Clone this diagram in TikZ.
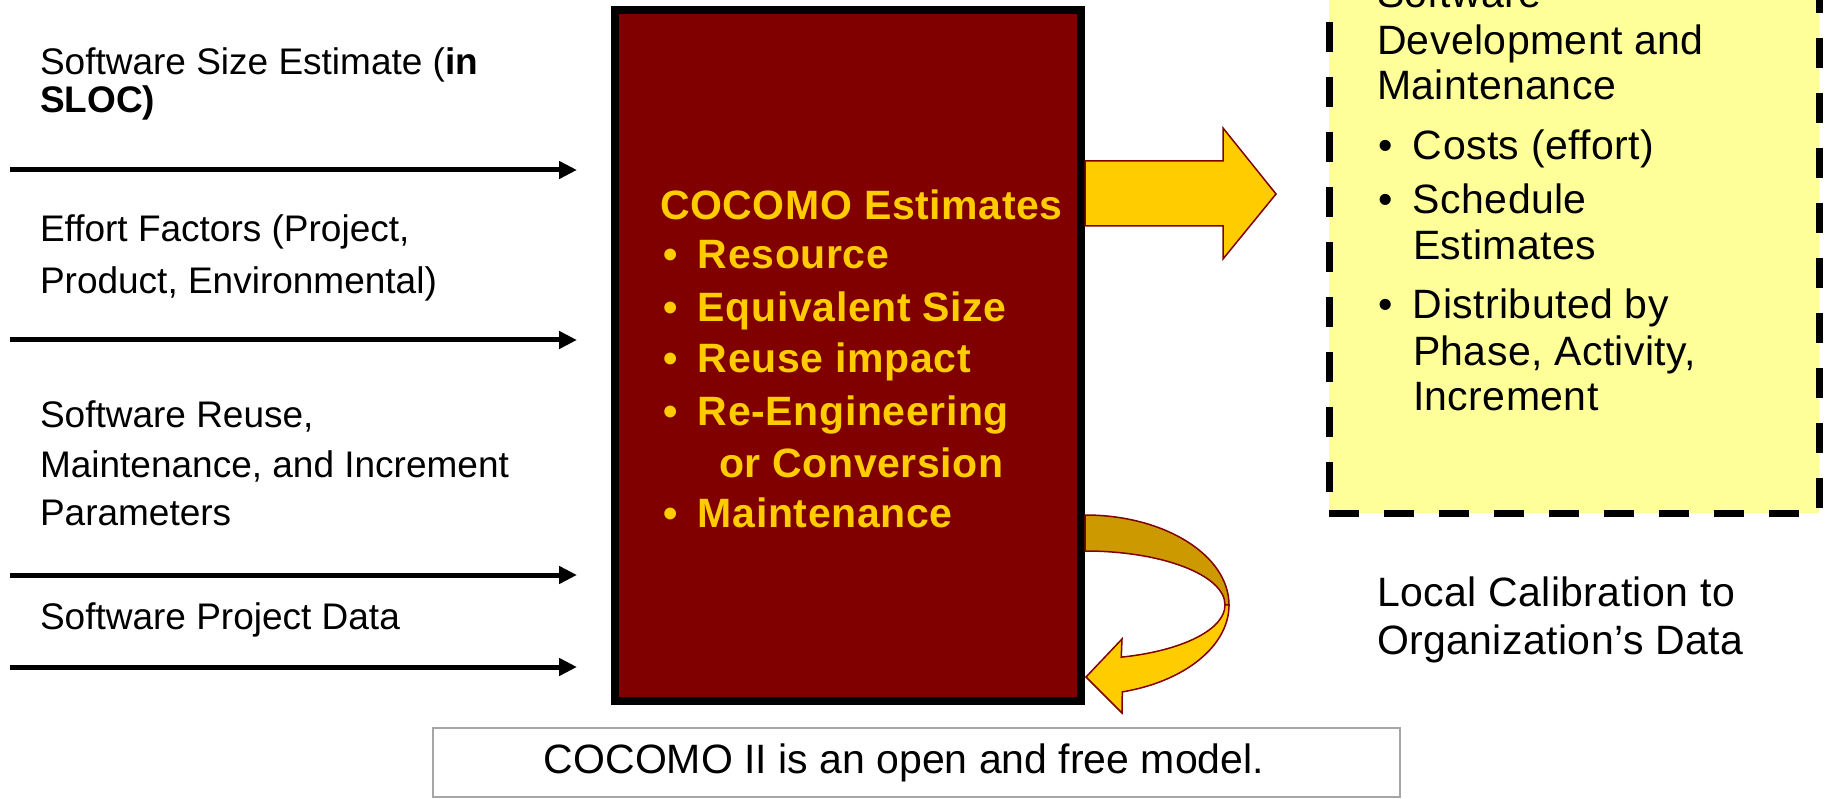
\documentclass[tikz,border=0pt]{standalone}
\usepackage{fontspec}
\setmainfont{Liberation Sans}
\newfontfamily\corefont[LetterSpace=1.5]{Liberation Sans}
\newfontfamily\outfont[LetterSpace=1]{Liberation Sans}
\newfontfamily\calfont[LetterSpace=1]{Liberation Sans}
\usetikzlibrary{arrows.meta}
\definecolor{maroon}{HTML}{800000}
\definecolor{gold}{HTML}{FFCC00}
\definecolor{darkgold}{HTML}{CC9900}
\definecolor{paleyellow}{HTML}{FFFF99}
\definecolor{notegray}{HTML}{A6A6A6}
\newcommand\blt[1]{\makebox[35pt][l]{•}#1}
\begin{document}
\begin{tikzpicture}[x=1pt,y=-1pt,
  every node/.style={inner sep=0pt,outer sep=0pt,anchor=base west},
  lefttxt/.style={font=\fontsize{37}{44}\selectfont},
  coretxt/.style={font=\corefont\bfseries\fontsize{41}{48}\selectfont,text=gold},
  outtxt/.style={font=\outfont\fontsize{41}{48}\selectfont},
  caltxt/.style={font=\calfont\fontsize{41}{48}\selectfont},
  notetxt/.style={anchor=base,font=\fontsize{41}{48}\selectfont},
  inarrow/.style={line width=5pt,-{Triangle[length=18pt,width=17pt]}},
  corebox/.style={anchor=center,draw=black,line width=8pt,fill=maroon,
    minimum width=466pt,minimum height=691pt},
  outbox/.style={anchor=center,draw=black,line width=7pt,fill=paleyellow,
    dash pattern=on 30pt off 25pt,minimum width=490pt,minimum height=553pt},
  notebox/.style={anchor=center,draw=notegray,line width=1.5pt,
    minimum width=967pt,minimum height=69pt},
  blockarrow/.style={fill=gold,draw=maroon,line width=1.5pt,line join=miter},
  backband/.style={fill=darkgold,draw=maroon,line width=1.5pt},
  frontband/.style={fill=gold,draw=maroon,line width=1.5pt,line join=miter}]

\useasboundingbox (0,0) rectangle (1829,799);

% input labels
\node[lefttxt] (in1a) at (40,75) {Software Size Estimate (\textbf{in}};
\node[lefttxt] (in1b) at (40,113) {\textbf{SLOC)}};
\node[lefttxt] (in2a) at (40,242) {Effort Factors (Project,};
\node[lefttxt] (in2b) at (40,294) {Product, Environmental)};
\node[lefttxt] (in3a) at (40,428) {Software Reuse,};
\node[lefttxt] (in3b) at (40,477) {Maintenance, and Increment};
\node[lefttxt] (in3c) at (40,525) {Parameters};
\node[lefttxt] (in4a) at (40,629) {Software Project Data};

% input arrows
\coordinate (a1s) at (10,170);  \coordinate (a1e) at (577,170);
\coordinate (a2s) at (10,340);  \coordinate (a2e) at (577,340);
\coordinate (a3s) at (10,575);  \coordinate (a3e) at (577,575);
\coordinate (a4s) at (10,667);  \coordinate (a4e) at (577,667);
\draw[inarrow] (a1s) -- (a1e);
\draw[inarrow] (a2s) -- (a2e);
\draw[inarrow] (a3s) -- (a3e);
\draw[inarrow] (a4s) -- (a4e);

% model box
\node[corebox] (core) at (848,355.5) {};
\node[coretxt] (c0) at (660,220) {COCOMO Estimates};
\node[coretxt] (c1) at (663,269) {\blt{Resource}};
\node[coretxt] (c2) at (663,322) {\blt{Equivalent Size}};
\node[coretxt] (c3) at (663,373) {\blt{Reuse impact}};
\node[coretxt] (c4) at (663,425) {\blt{Re-Engineering}};
\node[coretxt] (c5) at (719,477) {or Conversion};
\node[coretxt] (c6) at (663,527) {\blt{Maintenance}};

% output box
\node[outbox] (out) at (1574,236.5) {};
\node[outtxt] (o0) at (1377,8) {Software};
\node[outtxt] (o1) at (1377,55) {Development and};
\node[outtxt] (o2) at (1377,100) {Maintenance};
\node[outtxt] (o3) at (1378,160) {\blt{Costs (effort)}};
\node[outtxt] (o4) at (1378,214) {\blt{Schedule}};
\node[outtxt] (o5) at (1413,260) {Estimates};
\node[outtxt] (o6) at (1378,319) {\blt{Distributed by}};
\node[outtxt] (o7) at (1413,366) {Phase, Activity,};
\node[outtxt] (o8) at (1413,411) {Increment};

% output block arrow
\draw[blockarrow] (1085,161) -- (1223,161) -- (1223,128) -- (1276,194)
  -- (1223,259) -- (1223,226) -- (1085,226) -- cycle;

% calibration loop arrow
\draw[backband] (1085,515) arc[start angle=-90,end angle=0,x radius=144,y radius=90]
  -- (1225,605) arc[start angle=0,end angle=-90,x radius=140,y radius=54] -- cycle;
\draw[frontband] (1225,605) arc[start angle=0,end angle=75,x radius=140,y radius=54]
  -- (1122,639) -- (1086,677) -- (1122,713) -- (1122.3,691.9)
  arc[start angle=75,end angle=0,x radius=144,y radius=90] -- cycle;

\node[caltxt] (cal1) at (1377,606) {Local Calibration to};
\node[caltxt] (cal2) at (1377,654) {Organization’s Data};

% footnote box
\node[notebox] (note) at (916.5,762.5) {};
\node[notetxt] (notet) at (904,773) {COCOMO II is an open and free model.};
\end{tikzpicture}
\end{document}
